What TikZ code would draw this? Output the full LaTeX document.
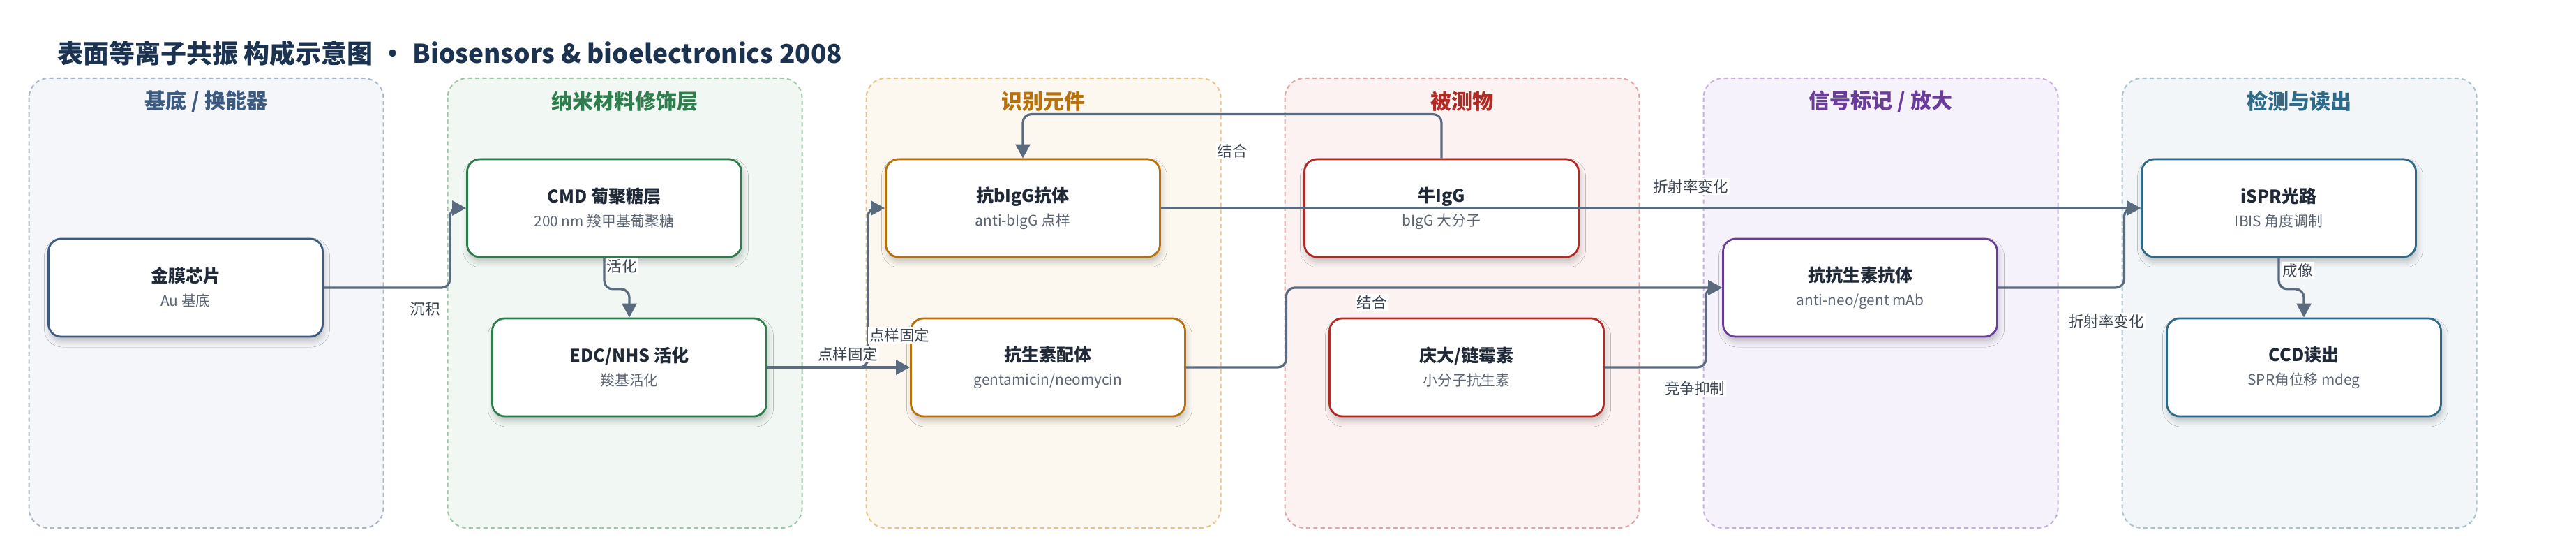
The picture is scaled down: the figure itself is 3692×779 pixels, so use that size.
\documentclass[tikz,border=0pt]{standalone}
\usepackage{fontspec}
\setmainfont{Noto Sans CJK SC}
\usepackage{xcolor}
\usepackage{tikz}
\usetikzlibrary{arrows.meta}
\usetikzlibrary{shadows.blur}
\definecolor{ink}{HTML}{1B3350}
\definecolor{txt}{HTML}{1F2937}
\definecolor{subtxt}{HTML}{5B6573}
\definecolor{wire}{HTML}{5A6B80}
\definecolor{labtxt}{HTML}{3A4350}
\definecolor{subC}{HTML}{3D5A80}\definecolor{subF}{HTML}{F4F6FA}\definecolor{subD}{HTML}{A9B6C8}
\definecolor{nanC}{HTML}{2E7D4C}\definecolor{nanF}{HTML}{F1F8F3}\definecolor{nanD}{HTML}{9CC8A8}
\definecolor{recC}{HTML}{B8710A}\definecolor{recF}{HTML}{FDF8EF}\definecolor{recD}{HTML}{E8C48A}
\definecolor{anaC}{HTML}{B22A24}\definecolor{anaF}{HTML}{FCF2F2}\definecolor{anaD}{HTML}{E4A4A4}
\definecolor{sigC}{HTML}{6A3D9A}\definecolor{sigF}{HTML}{F6F2FB}\definecolor{sigD}{HTML}{C8AEE0}
\definecolor{detC}{HTML}{2E6B8A}\definecolor{detF}{HTML}{F2F6F8}\definecolor{detD}{HTML}{A8C2CE}
\newcommand\unittext[2]{{\fontsize{12.5}{17}\selectfont\bfseries\color{txt}#1}\\{\color{subtxt}#2}}
\tikzstyle{lane}=[rounded corners=14pt,line width=1pt,dash pattern=on 3pt off 2.2pt]
\tikzstyle{lanetitle}=[font=\fontsize{15}{18}\selectfont\bfseries]
\tikzstyle{unit}=[rounded corners=9pt,line width=1.4pt,fill=white,minimum width=196.5pt,minimum height=70pt,align=center,inner sep=0pt,
	font=\fontsize{10.4}{17}\selectfont,
	blur shadow={shadow xshift=1pt,shadow yshift=-3.5pt,shadow blur radius=4pt,shadow opacity=22}]
\tikzstyle{flow}=[line width=1.6pt,draw=wire,rounded corners=6pt,-{Triangle[length=10pt,width=10.5pt]}]
\tikzstyle{tag}=[fill=white,inner sep=1pt,text=labtxt,font=\fontsize{10.75}{12}\selectfont]

\begin{document}
\begin{tikzpicture}[x=0.5pt,y=-0.5pt]
	\useasboundingbox (0,0) rectangle (3692,779);
	\node[anchor=west,text=ink,font=\fontsize{18.5}{20}\selectfont\bfseries] (head) at (75,76)
		{表面等离子共振 构成示意图\hspace{5pt}•\hspace{5pt}Biosensors \& bioelectronics 2008};
	\foreach \c/\col/\ttl in {0/sub/{基底 / 换能器},1/nan/纳米材料修饰层,2/rec/识别元件,3/ana/被测物,4/sig/{信号标记 / 放大},5/det/检测与读出}{
		\draw[lane,draw=\col D,fill=\col F] (41.5+600*\c,112) rectangle ++(508,644);
		\node[lanetitle,text=\col C] (lane\c) at (295.5+600*\c,145) {\ttl};
	}
	\node[unit,draw=subC] (jin)  at (266,412)  {\unittext{金膜芯片}{Au 基底}};
	\node[unit,draw=nanC] (cmd)  at (866,298)  {\unittext{CMD 葡聚糖层}{200 nm 羧甲基葡聚糖}};
	\node[unit,draw=nanC] (edc)  at (902,526)  {\unittext{EDC/NHS 活化}{羧基活化}};
	\node[unit,draw=recC] (kb)   at (1466,298) {\unittext{抗bIgG抗体}{anti-bIgG 点样}};
	\node[unit,draw=recC] (lig)  at (1502,526) {\unittext{抗生素配体}{gentamicin/neomycin}};
	\node[unit,draw=anaC] (niu)  at (2066,298) {\unittext{牛IgG}{bIgG 大分子}};
	\node[unit,draw=anaC] (qd)   at (2102,526) {\unittext{庆大/链霉素}{小分子抗生素}};
	\node[unit,draw=sigC] (kk)   at (2666,412) {\unittext{抗抗生素抗体}{anti-neo/gent mAb}};
	\node[unit,draw=detC] (ispr) at (3266,298) {\unittext{iSPR光路}{IBIS 角度调制}};
	\node[unit,draw=detC] (ccd)  at (3302,526) {\unittext{CCD读出}{SPR角位移 mdeg}};
	\draw[flow] (jin.east) -- ++(181,0) |- (cmd.west);
	\draw[flow] (cmd.south) -- ++(0,44.5) -| (edc.north);
	\draw[flow] (edc.east) -- ++(144,0) |- (kb.west);
	\draw[flow] (edc.east) -- (lig.west);
	\draw[flow] (niu.north) -- ++(0,-63) -| (kb.north);
	\draw[flow] (kb.east) -- (ispr.west);
	\draw[flow] (lig.east) -- ++(143.5,0) |- (kk.west);
	\draw[flow] (qd.east) -- ++(145,0) |- (kk.west);
	\draw[flow] (kk.east) -- ++(180.5,0) |- (ispr.west);
	\draw[flow] (ispr.south) -- ++(0,44.5) -| (ccd.north);
	\node[tag] (t1)  at (609,442)  {沉积};
	\node[tag] (t2)  at (891,381)  {活化};
	\node[tag] (t3)  at (1215,507) {点样固定};
	\node[tag] (t4)  at (1289,480) {点样固定};
	\node[tag] (t5)  at (1766,216) {结合};
	\node[tag] (t6)  at (2423,267) {折射率变化};
	\node[tag] (t7)  at (1966,433) {结合};
	\node[tag] (t8)  at (2429,556) {竞争抑制};
	\node[tag] (t9)  at (3019,460) {折射率变化};
	\node[tag] (t10) at (3293,387) {成像};
\end{tikzpicture}
\end{document}
